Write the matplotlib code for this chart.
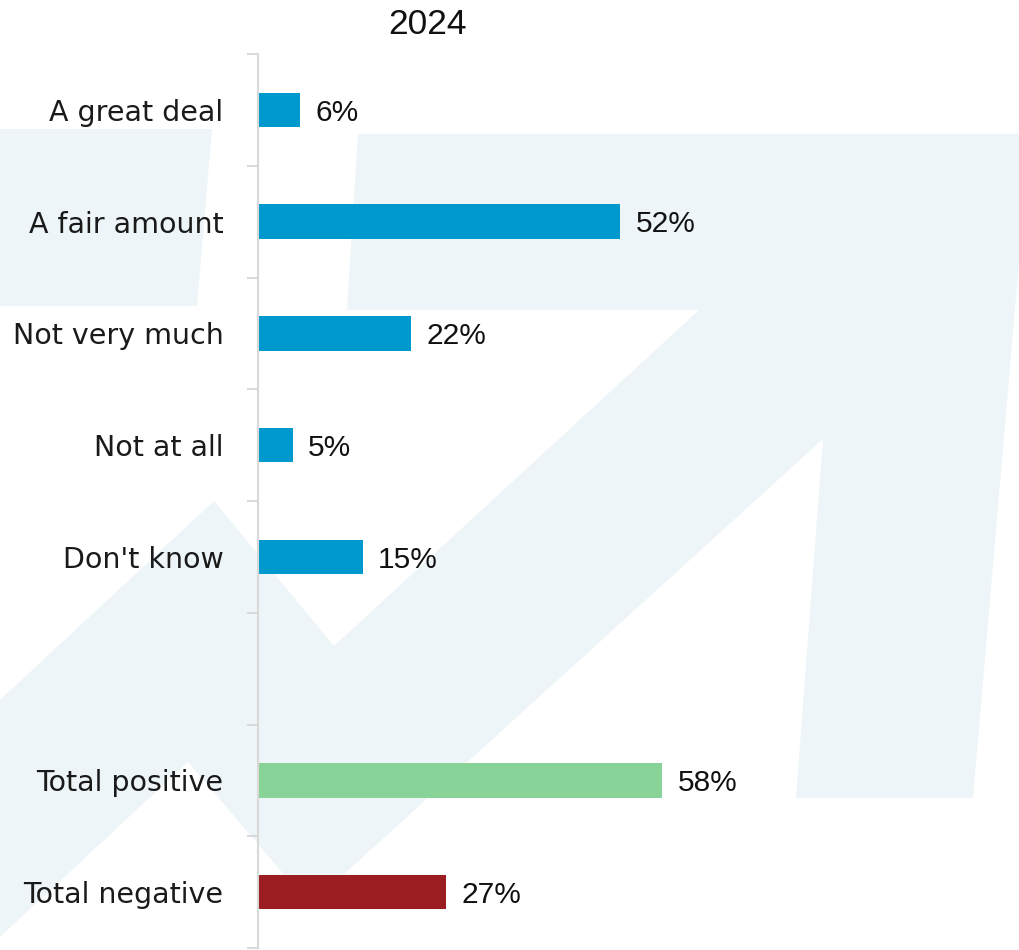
import matplotlib
matplotlib.use("Agg")
import matplotlib.pyplot as plt
from matplotlib.patches import Polygon

# Survey responses (percent), one empty slot separates the totals
categories = ["A great deal", "A fair amount", "Not very much", "Not at all",
              "Don't know", "", "Total positive", "Total negative"]
values = [6, 52, 22, 5, 15, None, 58, 27]
colors = ["#0099CE", "#0099CE", "#0099CE", "#0099CE", "#0099CE", None,
          "#88D398", "#9B1C21"]
title = "2024"

W, H = 1020, 950
fig = plt.figure(figsize=(W / 100, H / 100), dpi=100)

# Decorative watermark arrow drawn in pixel space behind the chart
bg = fig.add_axes([0, 0, 1, 1], zorder=0)
bg.set_xlim(0, W)
bg.set_ylim(H, 0)
bg.axis("off")
wash = "#EDF5F9"
arrow = [(0, 700), (214, 501), (334, 646), (699, 310), (347, 310), (358, 134),
         (1030, 134), (973, 798), (796, 798), (823, 439), (310, 905),
         (188, 762), (0, 937)]
block = [(0, 129), (212, 129), (197, 306), (0, 306)]
bg.add_patch(Polygon(arrow, closed=True, facecolor=wash, edgecolor="none"))
bg.add_patch(Polygon(block, closed=True, facecolor=wash, edgecolor="none"))

# Main bar chart
left_px, right_px = 258, 955
top_px, bottom_px = 54, 948
ax = fig.add_axes([left_px / W, (H - bottom_px) / H,
                   (right_px - left_px) / W, (bottom_px - top_px) / H], zorder=1)
ax.patch.set_alpha(0)

n = len(categories)
pos = list(range(n))
for i, (v, c) in enumerate(zip(values, colors)):
    if v is None:
        continue
    ax.barh(i, v, height=0.31, color=c, left=0)
    ax.annotate(f"{v}%", xy=(v, i), xytext=(11, -2), textcoords="offset points",
                va="center", ha="left", fontsize=21.5, color="#111111",
                family="Liberation Sans")

ax.set_xlim(0, 100)
ax.set_ylim(n - 0.5, -0.5)

ax.set_yticks(pos)
ax.set_yticklabels(categories, fontsize=20.5, family="DejaVu Sans", color="#1a1a1a",
                   va="center_baseline")
ax.set_yticks([p - 0.5 for p in range(n + 1)], minor=True)
ax.tick_params(axis="y", which="major", length=0, pad=25)
ax.tick_params(axis="y", which="minor", length=8, width=1.4, color="#D9D9D9")
ax.set_xticks([])

for s in ["top", "right", "bottom"]:
    ax.spines[s].set_visible(False)
ax.spines["left"].set_color("#D9D9D9")
ax.spines["left"].set_linewidth(1.5)

fig.text(428 / W, 1 - 24 / H, title, ha="center", va="center",
         fontsize=25.5, family="Liberation Sans", color="#111111")

fig.savefig("out.png", dpi=100)
